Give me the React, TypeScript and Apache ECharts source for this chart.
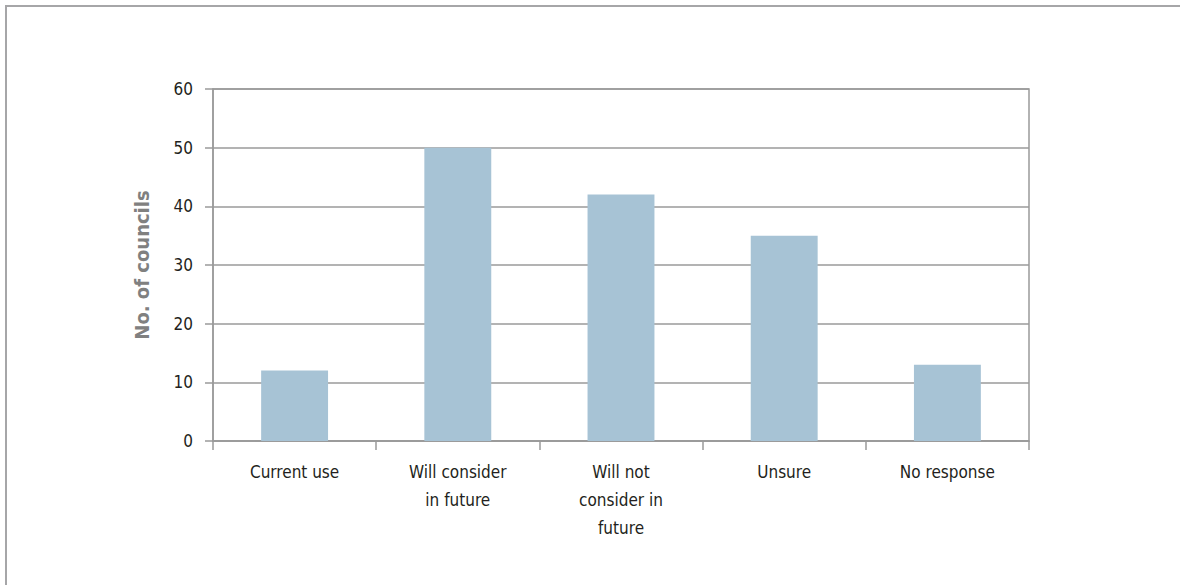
import React, { useEffect, useRef } from "react";
import * as echarts from "echarts";

const categories = ["Current use", "Will consider\nin future", "Will not\nconsider in\nfuture", "Unsure", "No response"];
const values = [12, 50, 42, 35, 13];
const yTicks = { min: 0, max: 60, interval: 10 };
const yAxisName = "No. of councils";

const FONT = "'Liberation Sans Narrow', 'DejaVu Sans Condensed', 'Roboto Condensed', sans-serif";

export default function App() {
  const ref = useRef<HTMLDivElement>(null);
  useEffect(() => {
    const chart = echarts.init(ref.current!, null, { renderer: "svg" });
    chart.setOption({
      animation: false,
      backgroundColor: "#ffffff",
      graphic: [
        { type: "line", shape: { x1: 5, y1: 6, x2: 1180, y2: 6 }, style: { stroke: "#a6a6a8", lineWidth: 2 } },
        { type: "line", shape: { x1: 6, y1: 5, x2: 6, y2: 585 }, style: { stroke: "#a6a6a8", lineWidth: 2 } },
      ],
      grid: {
        left: 213,
        right: 1180 - 1029,
        top: 89,
        height: 352,
        show: true,
        borderColor: "#9a9a9a",
        borderWidth: 1.5,
        backgroundColor: "transparent",
      },
      xAxis: {
        type: "category",
        data: categories,
        axisLine: { show: true, lineStyle: { color: "#9a9a9a", width: 1.5 } },
        axisTick: { show: true, length: 9, lineStyle: { color: "#9a9a9a", width: 1.5 } },
        axisLabel: {
          color: "#231f20",
          fontFamily: FONT,
          fontSize: 17,
          lineHeight: 28,
          margin: 17,
          interval: 0,
        },
      },
      yAxis: {
        type: "value",
        min: yTicks.min,
        max: yTicks.max,
        interval: yTicks.interval,
        name: yAxisName,
        nameLocation: "middle",
        nameRotate: 90,
        nameGap: 61,
        nameTextStyle: { color: "#808080", fontFamily: FONT, fontSize: 20, fontWeight: "bold" },
        axisLine: { show: true, lineStyle: { color: "#9a9a9a", width: 1.5 } },
        axisTick: { show: true, length: 8, lineStyle: { color: "#9a9a9a", width: 1.5 } },
        axisLabel: { color: "#231f20", fontFamily: FONT, fontSize: 17, margin: 20 },
        splitLine: { show: true, lineStyle: { color: "#9a9a9a", width: 1.5 } },
      },
      series: [
        {
          type: "bar",
          data: values,
          barWidth: "41%",
          itemStyle: { color: "#a7c3d5" },
        },
      ],
    });
    return () => chart.dispose();
  }, []);
  return <div ref={ref} style={{ position: "fixed", left: 0, top: 0, width: 1180, height: 585 }} />;
}
